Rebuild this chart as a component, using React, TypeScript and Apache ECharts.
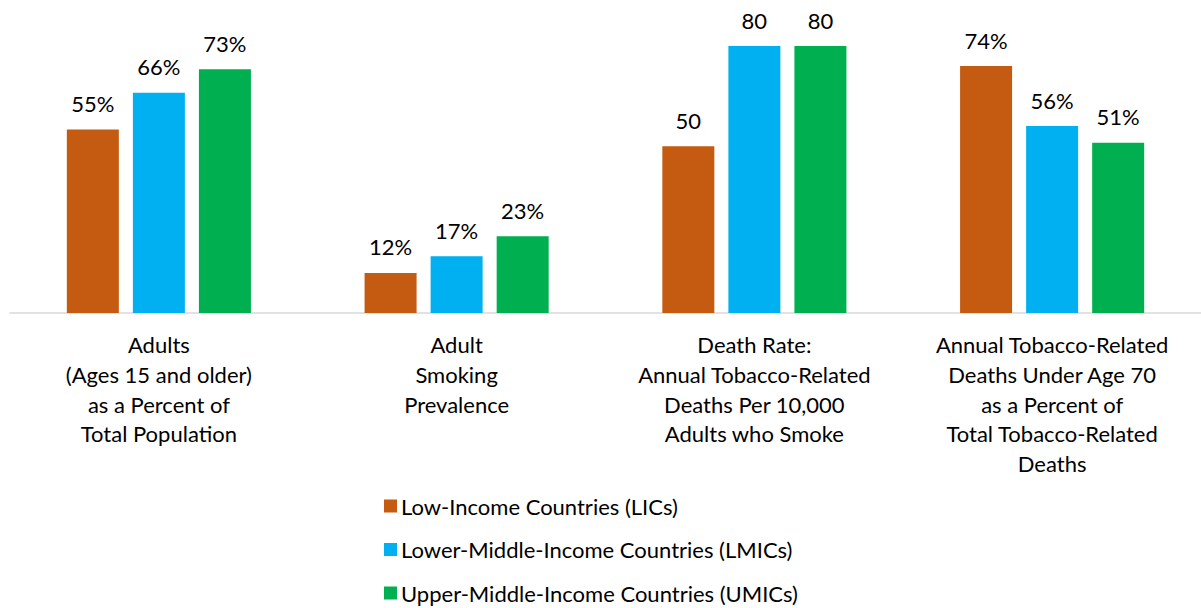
import React, { useEffect, useRef } from "react";
import * as echarts from "echarts";

const categories = [
  "Adults\n(Ages 15 and older)\nas a Percent of\nTotal Population",
  "Adult\nSmoking\nPrevalence",
  "Death Rate:\nAnnual Tobacco-Related\nDeaths Per 10,000\nAdults who Smoke",
  "Annual Tobacco-Related\nDeaths Under Age 70\nas a Percent of\nTotal Tobacco-Related\nDeaths",
];
const units = ["%", "%", "", "%"];
const seriesNames = [
  "Low-Income Countries (LICs)",
  "Lower-Middle-Income Countries (LMICs)",
  "Upper-Middle-Income Countries (UMICs)",
];
const licValues = [55, 12, 50, 74];
const lmicValues = [66, 17, 80, 56];
const umicValues = [73, 23, 80, 51];
const colors = ["#C55A11", "#00B0F0", "#00B050"];

const FONT = "Lato";

export default function App() {
  const ref = useRef<HTMLDivElement>(null);
  useEffect(() => {
    if (!ref.current) return;
    const chart = echarts.init(ref.current, undefined, { renderer: "svg" });
    const values = [licValues, lmicValues, umicValues];
    chart.setOption({
      animation: false,
      textStyle: { fontFamily: FONT },
      grid: { left: 10, width: 1198, top: 46, height: 267 },
      legend: {
        orient: "vertical",
        left: 379,
        top: 489,
        height: 140,
        itemWidth: 13,
        itemHeight: 13,
        itemGap: 19.5,
        icon: "rect",
        data: seriesNames,
        textStyle: { fontFamily: FONT, fontSize: 22, lineHeight: 24, color: "#000", padding: [0, 0, 0, -1] },
      },
      xAxis: {
        type: "category",
        data: categories,
        axisTick: { show: false },
        axisLine: { lineStyle: { color: "#d9d9d9", width: 1.5 } },
        axisLabel: {
          color: "#000",
          fontFamily: FONT,
          fontSize: 22,
          lineHeight: 29.7,
          margin: 17,
          interval: 0,
        },
      },
      yAxis: {
        type: "value",
        min: 0,
        max: 80,
        show: false,
        splitLine: { show: false },
      },
      series: values.map((v, i) => ({
        name: seriesNames[i],
        type: "bar",
        data: v,
        barWidth: 52,
        barGap: "27%",
        itemStyle: { color: colors[i] },
        label: {
          show: true,
          position: "top",
          distance: 15,
          color: "#000",
          fontFamily: FONT,
          fontSize: 22,
          formatter: (p: any) => `${p.value}${units[p.dataIndex]}`,
        },
      })),
    });
    return () => chart.dispose();
  }, []);
  return <div ref={ref} style={{ width: 1201, height: 608, position: "absolute", left: 0, top: 0 }} />;
}
